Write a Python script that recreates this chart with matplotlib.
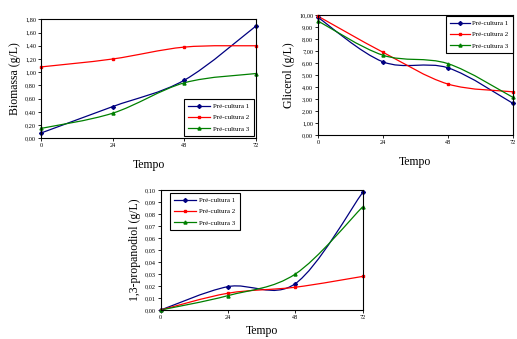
import matplotlib
matplotlib.use("Agg")
import matplotlib.pyplot as plt
import numpy as np
from matplotlib.path import Path
from matplotlib.patches import PathPatch
from matplotlib.lines import Line2D

plt.rcParams['font.family'] = ['Liberation Serif', 'DejaVu Serif']

tempo = [0, 24, 48, 72]
series_names = ["Pré-cultura 1", "Pré-cultura 2", "Pré-cultura 3"]

biomassa_p1 = [0.08, 0.48, 0.88, 1.70]
biomassa_p2 = [1.08, 1.20, 1.38, 1.40]
biomassa_p3 = [0.15, 0.38, 0.84, 0.98]

glicerol_p1 = [9.80, 6.10, 5.60, 2.65]
glicerol_p2 = [9.90, 6.90, 4.25, 3.60]
glicerol_p3 = [9.50, 6.65, 5.95, 3.15]

pdo_p1 = [0.000, 0.0195, 0.022, 0.098]
pdo_p2 = [0.000, 0.014, 0.019, 0.028]
pdo_p3 = [0.000, 0.012, 0.030, 0.086]

colors = ["#000080", "#FF0000", "#008000"]
markers = ["D", "s", "^"]
msizes = [2.0, 1.6, 2.2]


def smooth_path(x, y):
    x = np.asarray(x, float); y = np.asarray(y, float)
    pts = np.column_stack([x, y])
    verts = [pts[0]]
    codes = [Path.MOVETO]
    n = len(pts)
    for i in range(n - 1):
        p0 = pts[i - 1] if i > 0 else pts[i]
        p1 = pts[i]
        p2 = pts[i + 1]
        p3 = pts[i + 2] if i + 2 < n else pts[i + 1]
        c1 = p1 + (p2 - p0) / 6.0
        c2 = p2 - (p3 - p1) / 6.0
        verts += [c1, c2, p2]
        codes += [Path.CURVE4] * 3
    return Path(verts, codes)


def fmt(v, dec=2):
    return f"{v:.{dec}f}".replace(".", ",")


def draw(ax, series, ylim, yticks, ylabel, legend_bbox, xpad=8, hlen=3.2):
    for ys, c, m, ms, name in zip(series, colors, markers, msizes, series_names):
        ax.add_patch(PathPatch(smooth_path(tempo, ys), fc="none", ec=c, lw=0.9, clip_on=False))
        ax.plot(tempo, ys, ls="none", marker=m, color=c, ms=ms, clip_on=False)
    ax.set_xlim(0, 72)
    ax.set_ylim(*ylim)
    ax.set_xticks(tempo)
    ax.set_xticklabels([str(t) for t in tempo])
    ax.set_yticks(yticks)
    ax.set_yticklabels([fmt(v) for v in yticks])
    ax.tick_params(labelsize=4.5, length=2, width=0.6, pad=1.5)
    for s in ax.spines.values():
        s.set_linewidth(0.8)
    ax.set_xlabel("Tempo", fontsize=8.5, labelpad=xpad)
    ax.set_ylabel(ylabel, fontsize=8.5, labelpad=3)
    handles = [Line2D([], [], color=c, marker=m, ms=ms, lw=0.9) for c, m, ms in zip(colors, markers, msizes)]
    leg = ax.legend(handles, series_names, fontsize=5, loc="upper left",
                    bbox_to_anchor=legend_bbox, bbox_transform=ax.figure.transFigure,
                    frameon=True, fancybox=False, edgecolor="black", framealpha=1,
                    borderpad=0.6, handlelength=hlen, handletextpad=0.4, labelspacing=0.8,
                    borderaxespad=0)
    leg.get_frame().set_linewidth(0.8)


fig = plt.figure(figsize=(5.17, 3.39), dpi=100)

ax1 = fig.add_axes([0.0793, 0.592, 0.416, 0.351])
draw(ax1, [biomassa_p1, biomassa_p2, biomassa_p3], (0, 1.8),
     [0, 0.2, 0.4, 0.6, 0.8, 1.0, 1.2, 1.4, 1.6, 1.8], "Biomassa (g/L)",
     (184 / 517, 1 - 99 / 339))

ax2 = fig.add_axes([0.615, 0.6018, 0.3766, 0.354])
draw(ax2, [glicerol_p1, glicerol_p2, glicerol_p3], (0, 10),
     list(range(0, 11)), "Glicerol (g/L)",
     (446 / 517, 1 - 16 / 339), hlen=2.8)

ax3 = fig.add_axes([0.3108, 0.0855, 0.3907, 0.354])
draw(ax3, [pdo_p1, pdo_p2, pdo_p3], (0, 0.10),
     [i / 100 for i in range(0, 11)], "1,3-propanodiol (g/L)",
     (170 / 517, 1 - 193 / 339), xpad=4)

fig.savefig("out.png", dpi=100)
